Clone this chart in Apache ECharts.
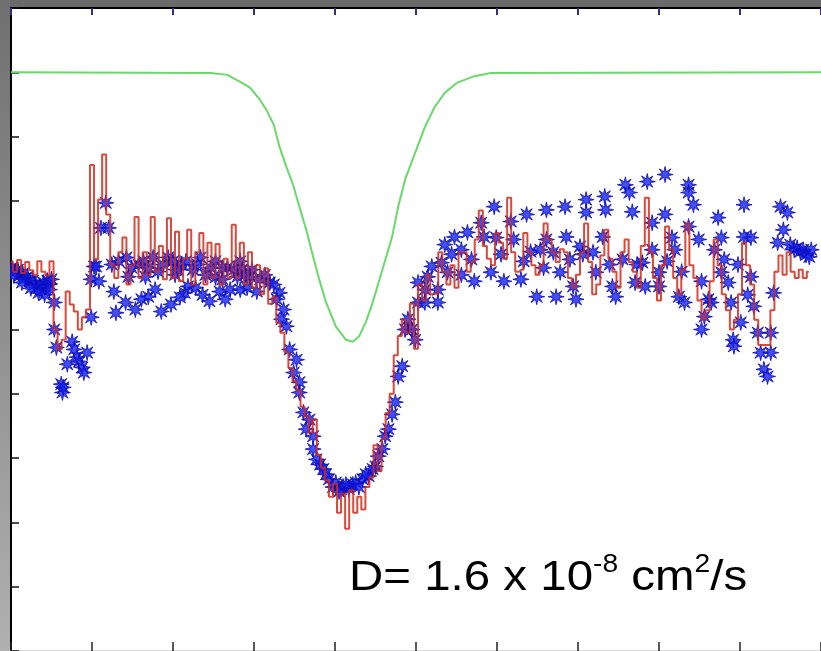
<!DOCTYPE html>
<html>
<head>
<meta charset="utf-8">
<script src="https://cdn.jsdelivr.net/npm/echarts@6/dist/echarts.min.js"></script>
<style>
html,body{margin:0;padding:0;background:#fff;}
#c{width:821px;height:651px;}
</style>
</head>
<body>
<div id="c"></div>
<script>
// Axis ticks (no labels in the original)
const xTicks = [0, 20, 40, 60, 80, 100, 120, 140, 160, 180, 200];
const yTicks = [0, 10, 20, 30, 40, 50, 60, 70, 80, 90, 100];

// Green model curve
const greenX = [0, 49.3, 53.4, 56.6, 59, 61.5, 63.2, 64.9, 66.3, 68, 69.8, 71.2, 72.9, 74.6, 76.1, 77.8, 80.2, 82.7, 84.4, 85.9, 87.6, 89.3, 91.7, 94.1, 95.6, 97.3, 99.8, 102.2, 104.6, 107.1, 110.2, 114.4, 118.5, 200];
const greenY = [90, 89.9, 89.6, 88.5, 87.6, 85.7, 84.0, 81.8, 78.4, 75.3, 72.2, 69.1, 65.5, 61.3, 57.8, 54.2, 50.5, 48.4, 48.1, 48.9, 51.1, 54.2, 59.3, 64.4, 69.1, 73.3, 77.5, 81.5, 84.6, 86.8, 88.4, 89.4, 89.9, 90];

// Red measured profile (one value per sample index 0..197)
const redY = [
60.5, 59, 60.8, 58.8, 60.5, 59.2, 58.5, 60.6, 59, 58.4,
60.6, 50, 46.9, 48.4, 55.9, 53.9, 52.8, 50, 51.9, 53.1,
75.6, 60.9, 70.2, 77.2, 67.9, 60.1, 58, 62, 64.3, 57,
60, 67.5, 58, 62, 58.5, 67.5, 59, 63, 57.8, 67.3,
58, 65.2, 57.5, 61, 65.5, 57, 62, 65, 57, 63.5,
58, 63.3, 57, 61, 58, 66.3, 58, 63.5, 57, 62,
56.5, 60, 55.5, 59.5, 54, 55, 51, 49.5, 46.5, 44,
42, 40.5, 38, 36.5, 34, 36, 30.5, 28.5, 26.5, 24,
26, 21.5, 24.5, 19, 25, 21.5, 24, 22, 25.5, 27,
32, 28, 33, 37, 40, 46, 49, 51.5, 49.5, 54,
47, 57, 54.5, 58.5, 55.5, 55.6, 62, 59, 57, 60,
56.5, 62, 62, 59, 60.5, 64, 68.5, 63, 61, 60,
65, 63.5, 61, 70.5, 62, 59, 59.3, 65, 62, 60,
58.5, 60, 66.5, 64, 62, 60.5, 62.5, 62, 58, 56.5,
58.5, 62, 66.5, 60.5, 55.5, 57, 61.5, 65.5, 61, 59,
56.5, 62, 64, 60.5, 59, 56.5, 63, 70.5, 62, 58,
54.5, 60, 66, 62.5, 58, 55.5, 59.3, 66.5, 60, 58,
54.5, 51.5, 53, 57.5, 64, 60, 55.5, 53, 50, 51.5,
55.5, 63.5, 60, 57, 51.5, 47.6, 47.6, 47.6, 53, 59,
61.5, 58.5, 62, 59, 58, 59.3, 58, 59
];

// Blue asterisk measurements
const blueX = [
0.2, 1.0, 1.7, 2.2, 2.9, 3.4, 4.1, 4.6, 5.4, 5.9, 6.3, 7.1, 7.6, 8.0, 8.5, 9.0, 9.5, 10.0,
0.7, 2.7, 4.9, 6.8, 8.3, 9.5,
10.7, 10.7, 11.2, 12.4, 12.7, 12.9, 13.9, 15.1, 15.6, 16.3, 16.8, 17.6, 18.0, 18.8, 19.8,
19.8, 20.5, 21.0, 21.7, 22.2, 23.4, 24.1, 24.9, 25.4, 25.9,
28.3, 28.5, 29.0, 30.7, 31.5, 33.2, 33.9, 35.1, 36.3, 37.1, 38.8, 39.5, 40.5, 42.0, 42.9, 43.7,
44.9, 45.6, 46.8, 48.0, 49.0, 49.3, 50.5, 51.5, 52.2, 53.4, 54.1, 55.1, 55.9, 57.1, 58.3, 59.0,
60.7, 61.5, 63.9,
26.6, 29.8, 32.7, 33.9, 37.6, 40.0, 41.2, 43.2, 46.1, 50.5, 52.2, 56.6, 57.8, 59.5, 62.7, 64.9,
32.2, 35.6, 41.7, 47.3, 52.9, 56.6,
66.3, 67.3, 68.0, 68.8, 69.8, 71.2, 71.2, 72.2, 72.9, 74.6, 75.4, 76.3, 77.1, 78.5, 79.5, 80.2,
81.5, 82.0, 83.4, 84.4, 85.1, 86.8, 88.3, 90.0, 90.7, 92.4, 93.2, 94.9, 95.6, 96.6, 97.3, 99.0,
65.6, 66.8, 70.5, 73.7, 74.6, 77.8, 81.0, 82.7, 85.9, 87.6, 89.3, 91.7, 94.1, 98.0,
99.8, 100.5, 100.5, 102.2, 102.2, 102.9, 103.9, 105.4, 105.4, 106.3, 107.1, 107.8, 109.5, 111.2,
111.2, 112.7, 114.4, 116.1, 116.8, 118.5, 119.3, 119.8, 121.7, 123.4, 124.1, 125.9, 127.3, 128.3,
129.8, 130.7, 132.2, 132.2, 133.9, 134.6, 135.6, 136.8, 137.1, 138.8, 139.5, 140.5, 142.0, 142.0,
143.7, 144.4, 146.1, 146.6, 146.8, 148.5, 149.3, 151.0, 151.7, 152.7, 153.4, 154.1, 155.9, 156.6,
157.1, 158.3, 158.3, 160.0, 160.0, 161.5, 161.5, 163.2, 163.9, 164.9, 166.3, 167.3, 167.3, 168.5,
167.3, 169.8, 170.5, 171.2, 172.2, 170.5, 172.9, 174.6, 175.4, 176.1, 175.4, 177.1, 177.8, 178.3,
178.5, 180.2, 181.0, 181.0, 182.7, 182.7, 183.4, 184.4, 185.1, 185.9, 186.8, 187.6, 187.6, 188.3,
189.3, 190.0, 190.7, 191.7, 192.4, 193.4, 194.1, 194.9, 195.6, 196.3, 197.1, 197.6,
108.8, 113.7, 121.0, 126.6, 131.5, 138.0, 141.2, 147.8, 154.6, 162.0, 165.6, 173.7, 179.5, 181.9
];
const blueY = [
59.6, 59.0, 59.3, 58.4, 58.7, 57.9, 58.2, 57.5, 57.6, 57.0, 56.5, 56.8, 56.2, 57.3, 56.7, 57.6, 57.1, 57.8,
58.4, 57.3, 56.4, 55.7, 55.4, 56.2,
54.2, 50.0, 47.2, 41.5, 40.2, 41.0, 44.6, 48.1, 46.9, 45.7, 45.0, 44.1, 43.3, 46.4, 51.9,
57.8, 59.8, 59.8, 57.5, 65.8, 69.7, 65.8, 60.1, 55.9, 52.6,
54.2, 61.2, 58.2, 53.1, 60.1, 58.2, 55.1, 61.2, 59.0, 52.8, 61.2, 53.9, 58.5, 60.1, 55.7, 56.7,
59.3, 56.5, 61.2, 58.5, 54.4, 59.6, 58.1, 55.9, 57.8, 59.6, 56.2, 59.3, 58.2, 59.3, 56.5, 58.2,
55.9, 57.8, 57.3,
60.6, 59.6, 60.6, 59.6, 60.1, 60.6, 59.3, 60.6, 60.1, 60.6, 59.6, 60.6, 58.5, 59.3, 58.5, 57.0,
54.7, 56.2, 55.0, 55.4, 54.7, 56.2,
55.7, 53.1, 50.5, 46.9, 43.3, 41.8, 40.2, 37.1, 34.5, 33.4, 29.8, 29.0, 28.3, 26.7, 25.5, 26.2,
25.2, 25.6, 25.2, 25.9, 26.2, 26.7, 27.2, 28.7, 30.3, 33.4, 34.5, 38.7, 42.7, 44.3, 50.0, 50.0,
54.7, 51.6, 45.3, 36.0, 31.4, 27.5, 24.8, 25.9, 25.5, 27.5, 28.3, 31.4, 36.8, 51.6,
48.4, 54.2, 57.3, 56.2, 54.2, 58.2, 59.8, 56.2, 54.2, 60.4, 63.2, 58.9, 64.4, 62.4,
58.5, 65.1, 57.5, 66.6, 64.4, 58.9, 69.1, 64.3, 57.5, 66.8, 64.0, 57.8, 67.9, 62.1,
55.1, 62.4, 68.6, 64.0, 62.0, 55.1, 58.9, 69.1, 64.4, 56.7, 54.7, 62.9, 70.2, 68.2,
62.0, 58.9, 64.4, 70.7, 68.6, 56.7, 55.1, 60.9, 72.5, 71.3, 68.3, 57.3, 60.4, 56.7,
73.0, 66.6, 62.4, 58.9, 56.7, 74.1, 67.9, 64.3, 62.4, 55.1, 54.2, 72.5, 71.3, 69.4,
66.0, 64.0, 57.5, 52.0, 54.7, 50.0, 54.2, 67.4, 64.3, 60.9, 58.9, 57.3, 54.2, 48.4,
47.4, 51.1, 69.4, 64.4, 64.3, 58.2, 53.6, 49.5, 46.4, 43.8, 42.7, 46.4, 49.5, 55.7,
63.5, 69.1, 65.5, 68.2, 63.2, 62.4, 62.7, 62.1, 62.4, 61.6, 61.3, 62.4,
61.7, 60.9, 61.7, 60.6, 59.6, 60.9, 61.7, 60.1, 60.1, 60.6, 59.0, 62.4, 60.1, 55.4
];

const redData = redY.map((v, i) => [i, v]);
const blueData = blueX.map((x, i) => [x, blueY[i]]);
const greenData = greenX.map((x, i) => [x, greenY[i]]);

const star = 'path://M10 0 L3.5 1.45 L7.07 7.07 L1.45 3.5 L0 10 L-1.45 3.5 L-7.07 7.07 L-3.5 1.45 L-10 0 L-3.5 -1.45 L-7.07 -7.07 L-1.45 -3.5 L0 -10 L1.45 -3.5 L7.07 -7.07 L3.5 -1.45 Z';

const chart = echarts.init(document.getElementById('c'), null, {renderer: 'canvas'});
chart.setOption({
  animation: false,
  backgroundColor: '#ffffff',
  grid: {left: 11, top: 8, width: 820, height: 644, containLabel: false},
  xAxis: [
    {type: 'value', position: 'bottom', min: xTicks[0], max: xTicks[xTicks.length - 1], interval: 20,
     axisLine: {show: true, lineStyle: {color: '#d8d8d8', width: 3}},
     axisTick: {show: true, inside: true, length: 9, lineStyle: {color: '#222', width: 1.5}},
     axisLabel: {show: false}, splitLine: {show: false}},
    {type: 'value', position: 'top', min: xTicks[0], max: xTicks[xTicks.length - 1], interval: 20,
     axisLine: {show: true, onZero: false, lineStyle: {color: '#000', width: 2}},
     axisTick: {show: true, inside: true, length: 7, lineStyle: {color: '#3a2a80', width: 2}},
     axisLabel: {show: false}, splitLine: {show: false}}
  ],
  yAxis: [
    {type: 'value', position: 'left', min: yTicks[0], max: yTicks[yTicks.length - 1], interval: 10,
     axisLine: {show: true, onZero: false, lineStyle: {color: '#000', width: 2}},
     axisTick: {show: true, inside: true, length: 8, lineStyle: {color: '#111', width: 1.5}},
     axisLabel: {show: false}, splitLine: {show: false}}
  ],
  series: [
    {type: 'line', data: greenData, xAxisIndex: 0, yAxisIndex: 0, showSymbol: false, smooth: false,
     lineStyle: {color: '#6ad86a', width: 2}, z: 2},
    {type: 'scatter', data: blueData, xAxisIndex: 0, yAxisIndex: 0, symbol: star, symbolSize: 16,
     itemStyle: {color: '#1422f0', borderColor: '#0a0ab4', borderWidth: 1}, z: 3},
    {type: 'line', data: redData, xAxisIndex: 0, yAxisIndex: 0, step: 'middle', showSymbol: false,
     lineStyle: {color: '#d42a1a', width: 2, opacity: 0.85}, z: 4}
  ],
  graphic: [
    {type: 'rect', shape: {x: 0, y: 0, width: 821, height: 7}, style: {fill: '#6a6a6a'}, z: 100, silent: true},
    {type: 'rect', shape: {x: 0, y: 0, width: 10, height: 651},
     style: {fill: new echarts.graphic.LinearGradient(0, 0, 0, 1, [{offset: 0, color: '#707070'}, {offset: 1, color: '#b0b0b0'}])}, z: 100, silent: true},
    {type: 'text', x: 349, y: 553, scaleX: 1.13, z: 101, silent: true,
     style: {
       text: '{a|D= 1.6 x 10}{s|-8}{a| cm}{s|2}{a|/s}',
       rich: {
         a: {fontFamily: 'Liberation Sans, Arial, sans-serif', fontSize: 42, lineHeight: 46, fill: '#000', verticalAlign: 'bottom'},
         s: {fontFamily: 'Liberation Sans, Arial, sans-serif', fontSize: 25, lineHeight: 46, fill: '#000', verticalAlign: 'top', padding: [0, 0, 20, 0]}
       }
     }}
  ]
});
</script>
</body>
</html>
